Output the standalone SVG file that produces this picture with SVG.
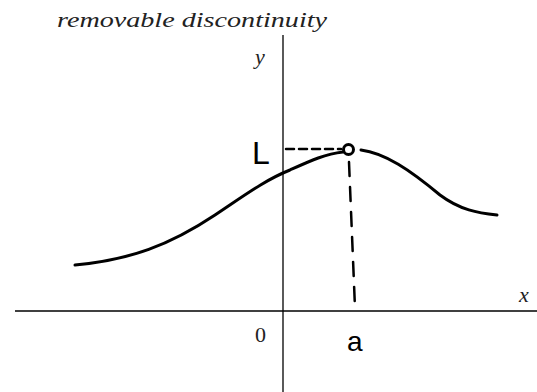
<svg xmlns="http://www.w3.org/2000/svg" width="537" height="392" viewBox="0 0 537 392">
<style>
.axis{stroke:#000;stroke-width:1.3;fill:none}
.ink{stroke:#000;stroke-width:3;fill:none;stroke-linecap:round;stroke-linejoin:round}
.dash{stroke:#000;stroke-width:2.5;fill:none;stroke-linecap:round}
.math{font-family:"Liberation Serif","DejaVu Serif",serif;font-style:italic;fill:#222}
.hand{font-family:"Liberation Sans","DejaVu Sans",sans-serif;fill:#000}
</style>
<rect width="537" height="392" fill="#fff"/>
<g id="axes">
<line class="axis" x1="15" y1="311" x2="537" y2="311"/>
<line class="axis" x1="283" y1="35" x2="283" y2="392"/>
</g>
<g id="curve">
<path class="ink" d="M75,265 C130,260 170,245 215,215 C245,195 265,180 290,170 C310,161 325,154 343,152"/>
<path class="ink" d="M361,150 C385,153 410,170 440,195 C460,210 478,213 497,215"/>
<circle class="ink" cx="348.5" cy="149.5" r="5" stroke-width="2.6" fill="#fff"/>
</g>
<g id="connectors">
<line class="dash" x1="286" y1="149" x2="341" y2="149" stroke-dasharray="8 5"/>
<line class="dash" x1="349" y1="162" x2="355" y2="308" stroke-dasharray="14 11"/>
</g>
<g id="labels">
<text class="math" x="57" y="27" font-size="21" textLength="270" lengthAdjust="spacingAndGlyphs">removable discontinuity</text>
<text class="math" x="255" y="64" font-size="22">y</text>
<text class="math" x="519" y="302" font-size="22">x</text>
<text x="255" y="342" font-size="22" font-family="Liberation Serif, serif" fill="#222">0</text>
<text class="hand" x="252" y="164" font-size="32" font-weight="300">L</text>
<text class="hand" x="347" y="351" font-size="28">a</text>
</g>
</svg>
